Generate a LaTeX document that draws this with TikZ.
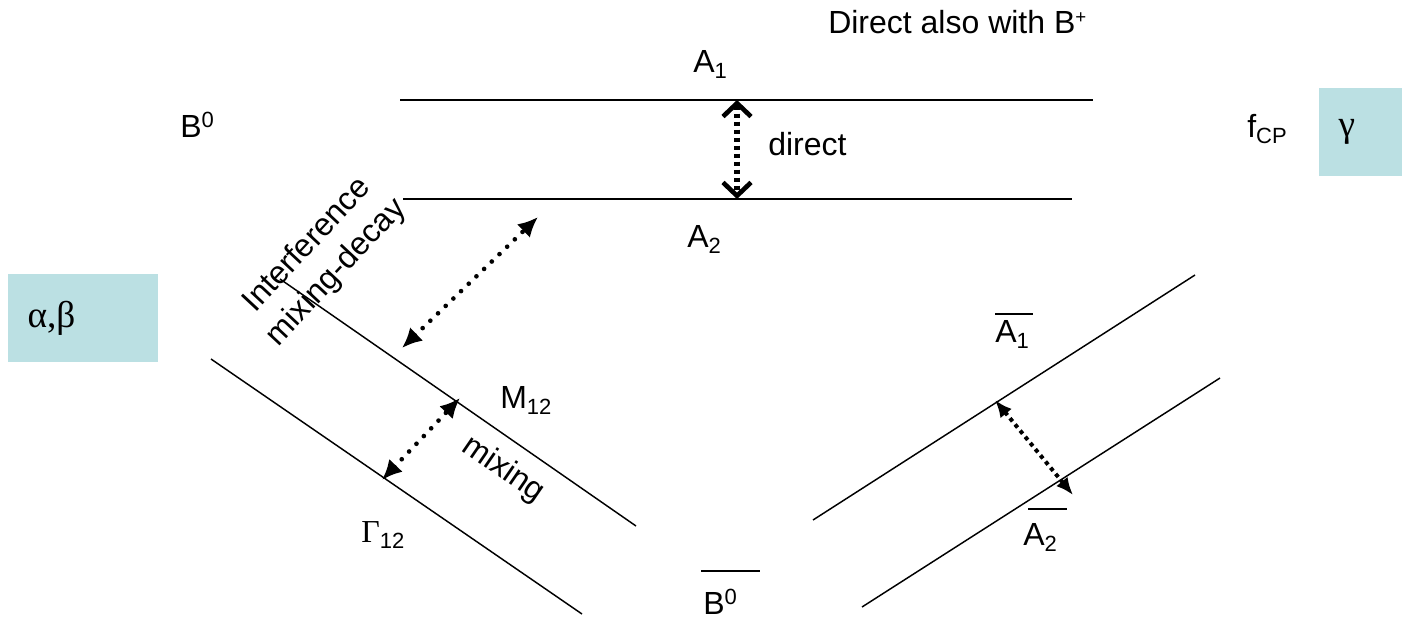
\documentclass[tikz,border=0pt]{standalone}
\usepackage{fontspec}
\setmainfont{Liberation Sans}
\newfontfamily\greekfont{Liberation Serif}
\usetikzlibrary{arrows.meta}
\definecolor{boxcyan}{HTML}{BBE0E3}
\newcommand\lsub[1]{\raisebox{-5pt}{\fontsize{16.5}{18}\selectfont #1}}
\newcommand\hsup[1]{\raisebox{7.5pt}{\fontsize{16.5}{18}\selectfont #1}}
\tikzset{
    every picture/.style={line join=round},
    trackline/.style={draw=black,line width=1.1pt},
    lbl/.style={inner sep=0pt,anchor=base west},
    barline/.style={draw=black,line width=1.1pt},
    parambox/.style={fill=boxcyan,anchor=north west,inner xsep=14.5pt,inner ysep=0pt,
      minimum height=66pt,align=left,font=\greekfont\fontsize{28}{30}\selectfont},
    dotlink/.style={line width=3.5pt,line cap=round,dash pattern=on 0pt off 8pt,
      {Latex[length=15pt,width=14pt]}-{Latex[length=15pt,width=14pt]}},
    squarelink/.style={line width=3pt,dash pattern=on 3pt off 3pt,
      {Latex[length=13pt,width=11pt]}-{Latex[length=13pt,width=11pt]}},
    directlink/.style={line width=4pt,dash pattern=on 3.5pt off 2.5pt,
      {Straight Barb[length=10pt,width=21pt,line width=3.5pt]}-{Straight Barb[length=10pt,width=21pt,line width=3.5pt]}}
}

\begin{document}
\begin{tikzpicture}[x=0.75pt,y=-0.75pt,font=\fontsize{24}{30}\selectfont]
  \useasboundingbox (0,0) rectangle (1402,618);
  % amplitude lines
  \coordinate (a1w) at (400,100);
  \coordinate (a1e) at (1093,100);
  \coordinate (a2w) at (403,199);
  \coordinate (a2e) at (1072,199);
  \coordinate (m12s) at (280,279);
  \coordinate (m12e) at (636,526);
  \coordinate (g12s) at (211,359);
  \coordinate (g12e) at (582,614);
  \coordinate (ab1s) at (813,520);
  \coordinate (ab1e) at (1195,275);
  \coordinate (ab2s) at (862,607);
  \coordinate (ab2e) at (1220,378);
  \draw[trackline] (a1w)--(a1e);
  \draw[trackline] (a2w)--(a2e);
  \draw[trackline] (m12s)--(m12e);
  \draw[trackline] (g12s)--(g12e);
  \draw[trackline] (ab1s)--(ab1e);
  \draw[trackline] (ab2s)--(ab2e);
  % parameter boxes
  \node[parambox,minimum width=112.5pt,text width=83.5pt] (abbox) at (8,274) {α,β};
  \node[parambox,minimum width=62.25pt,text width=33.25pt] (gbox) at (1319,88) {γ};
  % labels
  \node[lbl] (dirb) at (828,33) {Direct also with B\hsup{\fontsize{14}{16}\selectfont+}};
  \node[lbl] (a1) at (693,72) {A\lsub{1}};
  \node[lbl] (a2) at (687,247) {A\lsub{2}};
  \node[lbl] (dir) at (768,155) {direct};
  \node[lbl] (b0) at (180,137) {B\hsup{0}};
  \node[lbl] (fcp) at (1247,137) {f\lsub{CP}};
  \node[lbl] (m12) at (500,408) {M\lsub{12}};
  \node[lbl] (g12) at (361,542) {{\greekfont Γ}\lsub{12}};
  \node[lbl] (b0bar) at (703,614) {B\hsup{0}};
  \node[lbl] (ab1) at (995,342) {A\lsub{1}};
  \node[lbl] (ab2) at (1023,545) {A\lsub{2}};
  \draw[barline] ([shift={(-2,-43)}]b0bar.base west)--++(59,0);
  \draw[barline] ([shift={(0,-28)}]ab1.base west)--++(38,0);
  \draw[barline] ([shift={(5,-36)}]ab2.base west)--++(39,0);
  \node[rotate=47,align=center] (intf) at (322,259) {Interference\\mixing-decay};
  \node[rotate=-34.5] (mix) at (503,470) {mixing};
  % interference arrows
  \coordinate (dtop) at (737,100);
  \coordinate (dbot) at (737,199);
  \coordinate (ifa) at (402,348);
  \coordinate (ifb) at (538,217);
  \coordinate (mxa) at (382,480);
  \coordinate (mxb) at (460,398);
  \coordinate (abx) at (995,400);
  \coordinate (aby) at (1073,495);
  \draw[directlink] (dtop)--(dbot);
  \draw[dotlink] (ifa)--(ifb);
  \draw[dotlink] (mxa)--(mxb);
  \draw[squarelink] (abx)--(aby);
\end{tikzpicture}
\end{document}
